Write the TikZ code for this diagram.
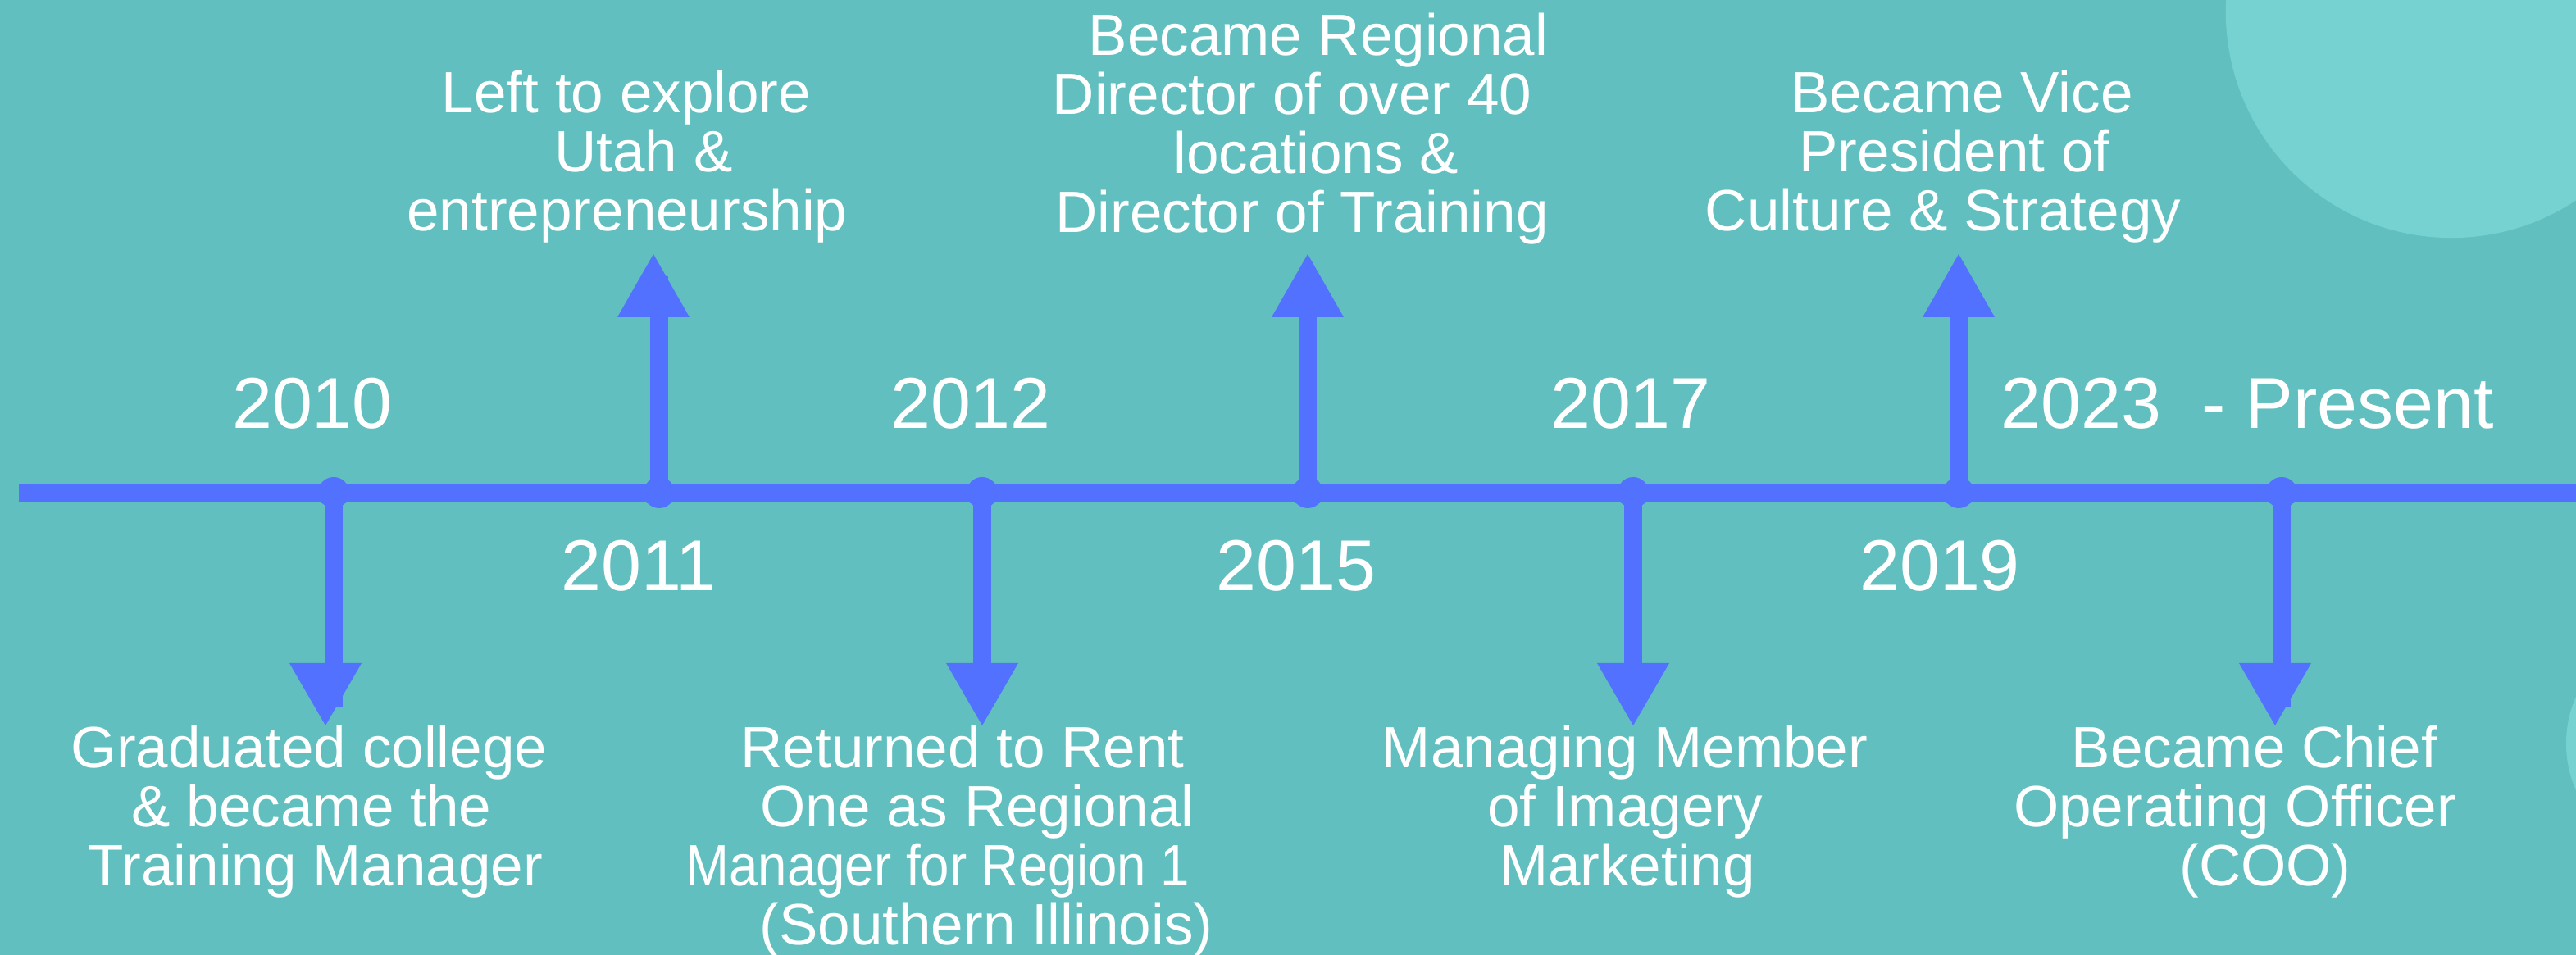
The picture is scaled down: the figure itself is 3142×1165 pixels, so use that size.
\documentclass[tikz,border=0pt]{standalone}
\usepackage{fontspec}
\setmainfont{Liberation Sans}
\definecolor{bgteal}{RGB}{98,191,191}
\definecolor{lightteal}{RGB}{118,209,209}
\definecolor{tlblue}{RGB}{82,113,255}
\begin{document}
\begin{tikzpicture}[x=0.01cm,y=-0.01cm,
  yearlabel/.style={anchor=base,inner sep=0pt,text=white,font=\fontsize{25pt}{30pt}\selectfont},
  eventline/.style={anchor=base,inner sep=0pt,text=white,font=\fontsize{20.2pt}{24pt}\selectfont},
  stem/.style={draw=tlblue,line width=0.22cm},
  headfill/.style={fill=tlblue},
  dotfill/.style={fill=tlblue},
]
\useasboundingbox (0,0) rectangle (3142,1165);
\clip (0,0) rectangle (3142,1165);
\fill[bgteal] (0,0) rectangle (3142,1165);
\fill[lightteal] (2990,15) circle[radius=2.75cm];
\fill[lightteal] (3271,907) circle[radius=1.41cm];

% timeline
\coordinate (tstart) at (23,601);
\coordinate (tend) at (3170,601);
\draw[stem] (tstart) -- (tend);

% tick points
\coordinate (k2010) at (407,601);
\coordinate (k2011) at (804,601);
\coordinate (k2012) at (1198,601);
\coordinate (k2015) at (1595,601);
\coordinate (k2017) at (1992,601);
\coordinate (k2019) at (2389,601);
\coordinate (k2023) at (2783,601);

% stem ends
\coordinate (e2010) at (407,863);
\coordinate (e2011) at (804,337);
\coordinate (e2012) at (1198,863);
\coordinate (e2015) at (1595,337);
\coordinate (e2017) at (1992,863);
\coordinate (e2019) at (2389,337);
\coordinate (e2023) at (2783,863);

\draw[stem] (k2010) -- (e2010);
\draw[stem] (k2011) -- (e2011);
\draw[stem] (k2012) -- (e2012);
\draw[stem] (k2015) -- (e2015);
\draw[stem] (k2017) -- (e2017);
\draw[stem] (k2019) -- (e2019);
\draw[stem] (k2023) -- (e2023);

% arrow heads
\fill[headfill] (353,809) -- (441,809) -- (397,885) -- cycle;
\fill[headfill] (753,387) -- (841,387) -- (797,310) -- cycle;
\fill[headfill] (1154,809) -- (1242,809) -- (1198,885) -- cycle;
\fill[headfill] (1551,387) -- (1639,387) -- (1595,310) -- cycle;
\fill[headfill] (1948,809) -- (2036,809) -- (1992,885) -- cycle;
\fill[headfill] (2345,387) -- (2433,387) -- (2389,310) -- cycle;
\fill[headfill] (2731,809) -- (2819,809) -- (2775,885) -- cycle;

% dots
\foreach \k in {2010,2011,2012,2015,2017,2019,2023}
  \fill[dotfill] (k\k) circle[radius=0.19cm];

% year labels
\node[yearlabel] (y2010) at (381,523) {2010};
\node[yearlabel] (y2011) at (779,721) {2011};
\node[yearlabel] (y2012) at (1184,523) {2012};
\node[yearlabel] (y2015) at (1581,721) {2015};
\node[yearlabel] (y2017) at (1989,523) {2017};
\node[yearlabel] (y2019) at (2366,721) {2019};
\node[yearlabel,anchor=base west] (y2023) at (2440,523) {2023\ \ - Present};

% events above
\node[eventline] (a1) at (764,138) {Left to explore};
\node[eventline] (a2) at (785,210) {Utah \&};
\node[eventline] (a3) at (765,282) {entrepreneurship};

\node[eventline] (b1) at (1608,68) {Became Regional};
\node[eventline] (b2) at (1576,140) {Director of over 40};
\node[eventline] (b3) at (1605,212) {locations \&};
\node[eventline] (b4) at (1588,284) {Director of Training};

\node[eventline] (c1) at (2393,138) {Became Vice};
\node[eventline] (c2) at (2384,210) {President of};
\node[eventline] (c3) at (2370,282) {Culture \& Strategy};

% events below
\node[eventline] (d1) at (377,937) {Graduated college};
\node[eventline] (d2) at (380,1009) {\& became the};
\node[eventline] (d3) at (385,1081) {Training Manager};

\node[eventline] (f1) at (1174,937) {Returned to Rent};
\node[eventline] (f2) at (1192,1009) {One as Regional};
\node[eventline] (f3) at (1144,1081) {\scalebox{0.895}[1]{Manager for Region 1}};
\node[eventline] (f4) at (1203,1153) {(Southern Illinois)};

\node[eventline] (g1) at (1982,937) {Managing Member};
\node[eventline] (g2) at (1982,1009) {of Imagery};
\node[eventline] (g3) at (1985,1081) {Marketing};

\node[eventline] (h1) at (2750,937) {Became Chief};
\node[eventline] (h2) at (2726,1009) {Operating Officer};
\node[eventline] (h3) at (2763,1081) {(COO)};
\end{tikzpicture}
\end{document}
